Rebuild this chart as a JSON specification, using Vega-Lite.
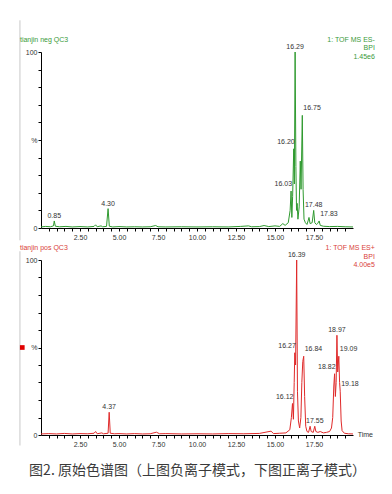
{
  "$schema": "https://vega.github.io/schema/vega-lite/v6.json",
  "background": "white",
  "padding": {"left": 17, "top": 18, "right": 5, "bottom": 5},
  "spacing": 0,
  "config": {
    "view": {"stroke": null},
    "text": {"font": "Liberation Sans", "fontSize": 7},
    "axis": {"labelFont": "Liberation Sans", "titleFont": "Liberation Sans"}
  },
  "vconcat": [
    {
      "width": 312,
      "height": 176,
      "encoding": {
        "x": {"field": "t", "type": "quantitative", "scale": {"domain": [0, 20], "nice": false, "zero": false},
          "axis": {"title": null, "grid": false, "values": [0.5,1,1.5,2,2.5,3,3.5,4,4.5,5,5.5,6,6.5,7,7.5,8,8.5,9,9.5,10,10.5,11,11.5,12,12.5,13,13.5,14,14.5,15,15.5,16,16.5,17,17.5,18,18.5,19,19.5],
            "labelExpr": "datum.value % 2.5 == 0 ? format(datum.value, '.2f') : ''", "labelOverlap": false, "labelFlush": false,
            "domainColor": "#000000", "tickColor": "#000000", "tickSize": 3, "labelFontSize": 7, "labelColor": "#333333", "labelPadding": 2}},
        "y": {"field": "v", "type": "quantitative", "scale": {"domain": [0, 100], "nice": false},
          "axis": {"title": null, "grid": false, "values": [0,10,20,30,40,50,60,70,80,90,100],
            "labelExpr": "datum.value == 100 ? '100' : datum.value == 0 ? '0' : datum.value == 50 ? '%' : ''", "labelOverlap": false, "labelFlush": false,
            "domainColor": "#000000", "tickColor": "#000000", "tickSize": 3, "labelFontSize": 7, "labelColor": "#333333", "labelPadding": 1}}
      },
      "layer": [
        {
          "data": {"values": [{"t": -1.35, "v": -7}, {"t": -1.35, "v": 118}]},
          "mark": {"type": "line", "color": "#c8c8c8", "strokeWidth": 1, "clip": false}
        },
        {
          "data": {"values": [
            {"t":0,"v":0.6},{"t":0.3,"v":0.9},{"t":0.6,"v":0.7},{"t":0.8,"v":1.2},{"t":0.85,"v":4},{"t":0.92,"v":1},{"t":1.2,"v":0.7},{"t":1.6,"v":0.9},{"t":2.0,"v":0.6},{"t":2.5,"v":0.8},{"t":3.0,"v":0.6},{"t":3.4,"v":0.9},{"t":3.5,"v":1.8},{"t":3.6,"v":0.7},{"t":3.85,"v":1.2},{"t":3.95,"v":0.7},{"t":4.2,"v":0.9},{"t":4.3,"v":11},{"t":4.38,"v":1},{"t":4.6,"v":0.6},{"t":5.0,"v":0.8},{"t":5.5,"v":0.6},{"t":6.0,"v":0.7},{"t":6.5,"v":0.6},{"t":7.0,"v":0.7},{"t":7.35,"v":1.4},{"t":7.5,"v":0.7},{"t":8.0,"v":0.6},{"t":9.0,"v":0.7},{"t":10.0,"v":0.6},{"t":11.0,"v":0.7},{"t":12.0,"v":0.6},{"t":12.8,"v":0.9},{"t":13.3,"v":1.2},{"t":13.5,"v":0.7},{"t":14.0,"v":0.8},{"t":14.3,"v":1.4},{"t":14.6,"v":0.8},{"t":15.0,"v":1.2},{"t":15.3,"v":0.9},{"t":15.5,"v":2.5},{"t":15.65,"v":1.5},{"t":15.85,"v":3},{"t":15.97,"v":10},{"t":16.03,"v":21},{"t":16.08,"v":6},{"t":16.13,"v":18},{"t":16.2,"v":45},{"t":16.24,"v":25},{"t":16.29,"v":100},{"t":16.34,"v":35},{"t":16.38,"v":10},{"t":16.42,"v":14},{"t":16.47,"v":5},{"t":16.55,"v":12},{"t":16.62,"v":38},{"t":16.67,"v":22},{"t":16.75,"v":64},{"t":16.8,"v":22},{"t":16.86,"v":5},{"t":16.95,"v":3},{"t":17.05,"v":2},{"t":17.12,"v":4},{"t":17.18,"v":6},{"t":17.25,"v":2.5},{"t":17.38,"v":3},{"t":17.48,"v":10},{"t":17.55,"v":3},{"t":17.65,"v":2},{"t":17.73,"v":2.5},{"t":17.83,"v":4},{"t":17.9,"v":1.5},{"t":18.1,"v":1},{"t":18.5,"v":0.8},{"t":19.0,"v":0.9},{"t":19.5,"v":0.7},{"t":20,"v":0.6}
          ]},
          "mark": {"type": "line", "color": "#2f9a2f", "strokeWidth": 1}
        },
        {
          "data": {"values": [
            {"t":0.85,"v":4,"label":"0.85","side":"above"},
            {"t":4.30,"v":11,"label":"4.30","side":"above"},
            {"t":16.29,"v":100,"label":"16.29","side":"above"},
            {"t":16.20,"v":45,"label":"16.20","side":"left"},
            {"t":16.75,"v":64,"label":"16.75","side":"right"},
            {"t":16.03,"v":21,"label":"16.03","side":"left"},
            {"t":17.48,"v":10,"label":"17.48","side":"above"},
            {"t":17.83,"v":4,"label":"17.83","side":"right"}
          ]},
          "layer": [
            {"transform": [{"filter": "datum.side == 'above'"}], "mark": {"type": "text", "align": "center", "baseline": "bottom", "dy": -2, "color": "#333333", "clip": false}, "encoding": {"text": {"field": "label"}}},
            {"transform": [{"filter": "datum.side == 'left'"}], "mark": {"type": "text", "align": "right", "baseline": "bottom", "dx": 1, "dy": -4, "color": "#333333", "clip": false}, "encoding": {"text": {"field": "label"}}},
            {"transform": [{"filter": "datum.side == 'right'"}], "mark": {"type": "text", "align": "left", "baseline": "bottom", "dx": 1, "dy": -4, "color": "#333333", "clip": false}, "encoding": {"text": {"field": "label"}}}
          ]
        },
        {
          "data": {"values": [
            {"t":-1.35,"v":107,"label":"tianjin neg QC3"}
          ]},
          "mark": {"type": "text", "align": "left", "baseline": "middle", "color": "#3a9a3a", "clip": false},
          "encoding": {"text": {"field": "label"}}
        },
        {
          "data": {"values": [
            {"t":21.4,"v":107,"label":"1: TOF MS ES-"},
            {"t":21.4,"v":102,"label":"BPI"},
            {"t":21.4,"v":97,"label":"1.45e6"}
          ]},
          "mark": {"type": "text", "align": "right", "baseline": "middle", "color": "#3a9a3a", "clip": false},
          "encoding": {"text": {"field": "label"}}
        }
      ]
    },
    {
      "width": 312,
      "height": 175,
      "encoding": {
        "x": {"field": "t", "type": "quantitative", "scale": {"domain": [0, 20], "nice": false, "zero": false},
          "axis": {"title": "图2. 原始色谱图（上图负离子模式，下图正离子模式）", "titleFont": "Noto Sans CJK SC", "titleFontSize": 14, "titleFontWeight": "normal", "titleColor": "#3a3a3a", "titlePadding": 16,
            "grid": false, "values": [0.5,1,1.5,2,2.5,3,3.5,4,4.5,5,5.5,6,6.5,7,7.5,8,8.5,9,9.5,10,10.5,11,11.5,12,12.5,13,13.5,14,14.5,15,15.5,16,16.5,17,17.5,18,18.5,19,19.5],
            "labelExpr": "datum.value % 2.5 == 0 ? format(datum.value, '.2f') : ''", "labelOverlap": false, "labelFlush": false,
            "domainColor": "#000000", "tickColor": "#000000", "tickSize": 3, "labelFontSize": 7, "labelColor": "#333333", "labelPadding": 2}},
        "y": {"field": "v", "type": "quantitative", "scale": {"domain": [0, 100], "nice": false},
          "axis": {"title": null, "grid": false, "values": [0,10,20,30,40,50,60,70,80,90,100],
            "labelExpr": "datum.value == 100 ? '100' : datum.value == 0 ? '0' : datum.value == 50 ? '%' : ''", "labelOverlap": false, "labelFlush": false,
            "domainColor": "#000000", "tickColor": "#000000", "tickSize": 3, "labelFontSize": 7, "labelColor": "#333333", "labelPadding": 1}}
      },
      "layer": [
        {
          "data": {"values": [{"t": -1.35, "v": -6}, {"t": -1.35, "v": 105}]},
          "mark": {"type": "line", "color": "#c8c8c8", "strokeWidth": 1, "clip": false}
        },
        {
          "data": {"values": [{"t": -1.2, "v": 50}]},
          "mark": {"type": "square", "color": "#e00000", "filled": true, "opacity": 1, "size": 22, "clip": false}
        },
        {
          "data": {"values": [
            {"t":0,"v":0.6},{"t":0.5,"v":0.8},{"t":1.0,"v":0.6},{"t":1.5,"v":0.9},{"t":2.0,"v":0.6},{"t":2.5,"v":0.8},{"t":3.0,"v":0.7},{"t":3.4,"v":1},{"t":3.5,"v":2},{"t":3.6,"v":0.7},{"t":3.9,"v":1.2},{"t":4.0,"v":0.7},{"t":4.3,"v":1},{"t":4.37,"v":13},{"t":4.44,"v":1},{"t":4.7,"v":0.7},{"t":5.0,"v":0.8},{"t":5.5,"v":0.6},{"t":6.0,"v":0.8},{"t":6.5,"v":0.6},{"t":7.0,"v":0.7},{"t":7.4,"v":1.6},{"t":7.6,"v":0.7},{"t":8.0,"v":0.8},{"t":9.0,"v":0.6},{"t":10.0,"v":0.7},{"t":11.0,"v":0.6},{"t":12.0,"v":0.8},{"t":13.0,"v":0.7},{"t":14.0,"v":0.9},{"t":14.75,"v":2.2},{"t":14.9,"v":0.8},{"t":15.3,"v":1},{"t":15.7,"v":1.2},{"t":15.95,"v":3},{"t":16.05,"v":10},{"t":16.12,"v":18},{"t":16.18,"v":9},{"t":16.23,"v":30},{"t":16.27,"v":47},{"t":16.32,"v":40},{"t":16.39,"v":100},{"t":16.44,"v":25},{"t":16.5,"v":8},{"t":16.58,"v":4},{"t":16.66,"v":10},{"t":16.72,"v":30},{"t":16.78,"v":42},{"t":16.84,"v":45},{"t":16.9,"v":22},{"t":16.97,"v":5},{"t":17.05,"v":2},{"t":17.15,"v":1.5},{"t":17.25,"v":5},{"t":17.32,"v":2},{"t":17.45,"v":1.5},{"t":17.55,"v":5},{"t":17.62,"v":2},{"t":17.75,"v":1.5},{"t":17.9,"v":2},{"t":18.1,"v":1.2},{"t":18.3,"v":1.5},{"t":18.5,"v":2},{"t":18.62,"v":4},{"t":18.7,"v":10},{"t":18.77,"v":28},{"t":18.82,"v":35},{"t":18.87,"v":22},{"t":18.92,"v":30},{"t":18.97,"v":57},{"t":19.02,"v":36},{"t":19.09,"v":45},{"t":19.14,"v":30},{"t":19.18,"v":25},{"t":19.24,"v":8},{"t":19.3,"v":2.5},{"t":19.45,"v":1},{"t":19.7,"v":0.7},{"t":20,"v":0.6}
          ]},
          "mark": {"type": "line", "color": "#e02a2a", "strokeWidth": 1}
        },
        {
          "data": {"values": [
            {"t":4.37,"v":13,"label":"4.37","side":"above"},
            {"t":16.39,"v":100,"label":"16.39","side":"above"},
            {"t":16.27,"v":47,"label":"16.27","side":"left"},
            {"t":16.84,"v":45,"label":"16.84","side":"right"},
            {"t":16.12,"v":18,"label":"16.12","side":"left"},
            {"t":17.55,"v":5,"label":"17.55","side":"above"},
            {"t":18.97,"v":57,"label":"18.97","side":"above"},
            {"t":18.82,"v":35,"label":"18.82","side":"left"},
            {"t":19.09,"v":45,"label":"19.09","side":"right"},
            {"t":19.18,"v":25,"label":"19.18","side":"right"}
          ]},
          "layer": [
            {"transform": [{"filter": "datum.side == 'above'"}], "mark": {"type": "text", "align": "center", "baseline": "bottom", "dy": -2, "color": "#333333", "clip": false}, "encoding": {"text": {"field": "label"}}},
            {"transform": [{"filter": "datum.side == 'left'"}], "mark": {"type": "text", "align": "right", "baseline": "bottom", "dx": 1, "dy": -4, "color": "#333333", "clip": false}, "encoding": {"text": {"field": "label"}}},
            {"transform": [{"filter": "datum.side == 'right'"}], "mark": {"type": "text", "align": "left", "baseline": "bottom", "dx": 1, "dy": -4, "color": "#333333", "clip": false}, "encoding": {"text": {"field": "label"}}}
          ]
        },
        {
          "data": {"values": [
            {"t":-1.35,"v":107,"label":"tianjin pos QC3"}
          ]},
          "mark": {"type": "text", "align": "left", "baseline": "middle", "color": "#d9413a", "clip": false},
          "encoding": {"text": {"field": "label"}}
        },
        {
          "data": {"values": [
            {"t":20.3,"v":0,"label":"Time"}
          ]},
          "mark": {"type": "text", "align": "left", "baseline": "middle", "color": "#333333", "clip": false},
          "encoding": {"text": {"field": "label"}}
        },
        {
          "data": {"values": [
            {"t":21.4,"v":107,"label":"1: TOF MS ES+"},
            {"t":21.4,"v":102,"label":"BPI"},
            {"t":21.4,"v":97,"label":"4.00e5"}
          ]},
          "mark": {"type": "text", "align": "right", "baseline": "middle", "color": "#d9413a", "clip": false},
          "encoding": {"text": {"field": "label"}}
        }
      ]
    }
  ]
}
